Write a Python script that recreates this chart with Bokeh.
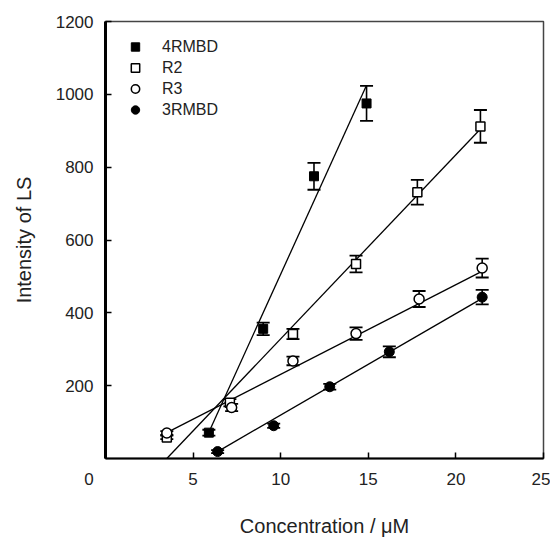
from bokeh.plotting import figure
from bokeh.models import (Range1d, Whisker, TeeHead, ColumnDataSource, Legend,
                          LegendItem, FixedTicker)
from bokeh.embed import file_html
from bokeh.resources import INLINE

# ---- data ----
r4_x = [5.9, 9.0, 11.9, 14.9]
r4_y = [71, 356, 775, 975]
r4_err = [8, 17, 37, 48]

r2_x = [3.5, 7.1, 10.7, 14.3, 17.8, 21.4]
r2_y = [58, 153, 342, 534, 731, 912]
r2_err = [5, 10, 14, 23, 34, 45]

r3_x = [3.5, 7.2, 10.7, 14.3, 17.9, 21.5]
r3_y = [70, 140, 268, 343, 438, 523]
r3_err = [5, 10, 12, 17, 22, 26]

m3_x = [6.4, 9.6, 12.8, 16.2, 21.5]
m3_y = [19, 90, 197, 293, 443]
m3_err = [4, 6, 8, 15, 20]

fit_r4_x, fit_r4_y = [5.9, 14.9], [72, 1025]
fit_r2_x, fit_r2_y = [3.5, 21.4], [0, 905]
fit_r3_x, fit_r3_y = [3.5, 21.4], [71, 512]
fit_m3_x, fit_m3_y = [6.4, 21.4], [19, 437]

x_ticks = [0, 5, 10, 15, 20, 25]
y_ticks = [200, 400, 600, 800, 1000, 1200]

FONT = "Liberation Sans"
NBSP = "\u00a0"

p = figure(width=550, height=541, output_backend="svg", toolbar_location=None,
           x_range=Range1d(0, 25), y_range=Range1d(0, 1200),
           min_border_left=105, min_border_right=7, min_border_top=21,
           min_border_bottom=83)
p.background_fill_color = "white"
p.border_fill_color = "white"
p.grid.visible = False
p.outline_line_color = "#444444"
p.outline_line_width = 1.5

for ax in (p.xaxis[0], p.yaxis[0]):
    ax.major_tick_in = 6
    ax.major_tick_out = 0
    ax.minor_tick_line_color = None
    ax.major_tick_line_color = "black"
    ax.major_tick_line_width = 1.5
    ax.axis_line_color = "black"
    ax.major_label_text_font = FONT
    ax.major_label_text_font_size = "17px"
    ax.major_label_text_color = "#222222"
    ax.axis_label_text_font = FONT
    ax.axis_label_text_font_size = "20px"
    ax.axis_label_text_font_style = "normal"
    ax.axis_label_text_color = "#222222"

p.xaxis.ticker = FixedTicker(ticks=x_ticks)
p.yaxis.ticker = FixedTicker(ticks=y_ticks)
# the origin label sits left of the corner in the reference
p.xaxis.major_label_overrides = {0: "0" + NBSP * 7}
p.yaxis.axis_line_width = 3
p.xaxis.axis_line_width = 2
p.xaxis.major_label_standoff = 11
p.yaxis.major_label_standoff = 12
p.xaxis.axis_label = "Concentration / \u03bcM"
p.yaxis.axis_label = "Intensity of LS"
p.xaxis.axis_label_standoff = 23
p.yaxis.axis_label_standoff = 18

# fit lines
for fx, fy in ((fit_r4_x, fit_r4_y), (fit_r2_x, fit_r2_y),
               (fit_r3_x, fit_r3_y), (fit_m3_x, fit_m3_y)):
    p.line(fx, fy, line_color="black", line_width=1.3)

def add_err(xs, ys, es):
    src = ColumnDataSource(dict(x=xs, lo=[y - e for y, e in zip(ys, es)],
                                hi=[y + e for y, e in zip(ys, es)]))
    w = Whisker(source=src, base="x", lower="lo", upper="hi",
                line_color="black", line_width=1.6,
                upper_head=TeeHead(size=13, line_color="black", line_width=1.8),
                lower_head=TeeHead(size=13, line_color="black", line_width=1.8))
    p.add_layout(w)

add_err(r4_x, r4_y, r4_err)
add_err(r2_x, r2_y, r2_err)
add_err(r3_x, r3_y, r3_err)
add_err(m3_x, m3_y, m3_err)

s_r4 = p.scatter(r4_x, r4_y, marker="square", size=9, fill_color="black",
                 line_color="black", line_width=1)
s_r2 = p.scatter(r2_x, r2_y, marker="square", size=9, fill_color="white",
                 line_color="black", line_width=1.5)
s_r3 = p.scatter(r3_x, r3_y, marker="circle", size=10, fill_color="white",
                 line_color="black", line_width=1.5)
s_m3 = p.scatter(m3_x, m3_y, marker="circle", size=10, fill_color="black",
                 line_color="black", line_width=1)

legend = Legend(items=[LegendItem(label="4RMBD", renderers=[s_r4]),
                       LegendItem(label="R2", renderers=[s_r2]),
                       LegendItem(label="R3", renderers=[s_r3]),
                       LegendItem(label="3RMBD", renderers=[s_m3])],
                location=(19, 338), orientation="vertical",
                border_line_color=None, background_fill_alpha=0,
                label_text_font=FONT, label_text_font_size="16px",
                label_text_color="#222222",
                glyph_width=22, glyph_height=21, label_height=21,
                spacing=0, padding=0, label_standoff=16, margin=0)
p.add_layout(legend)

open("out.html", "w").write(file_html(p, INLINE))
